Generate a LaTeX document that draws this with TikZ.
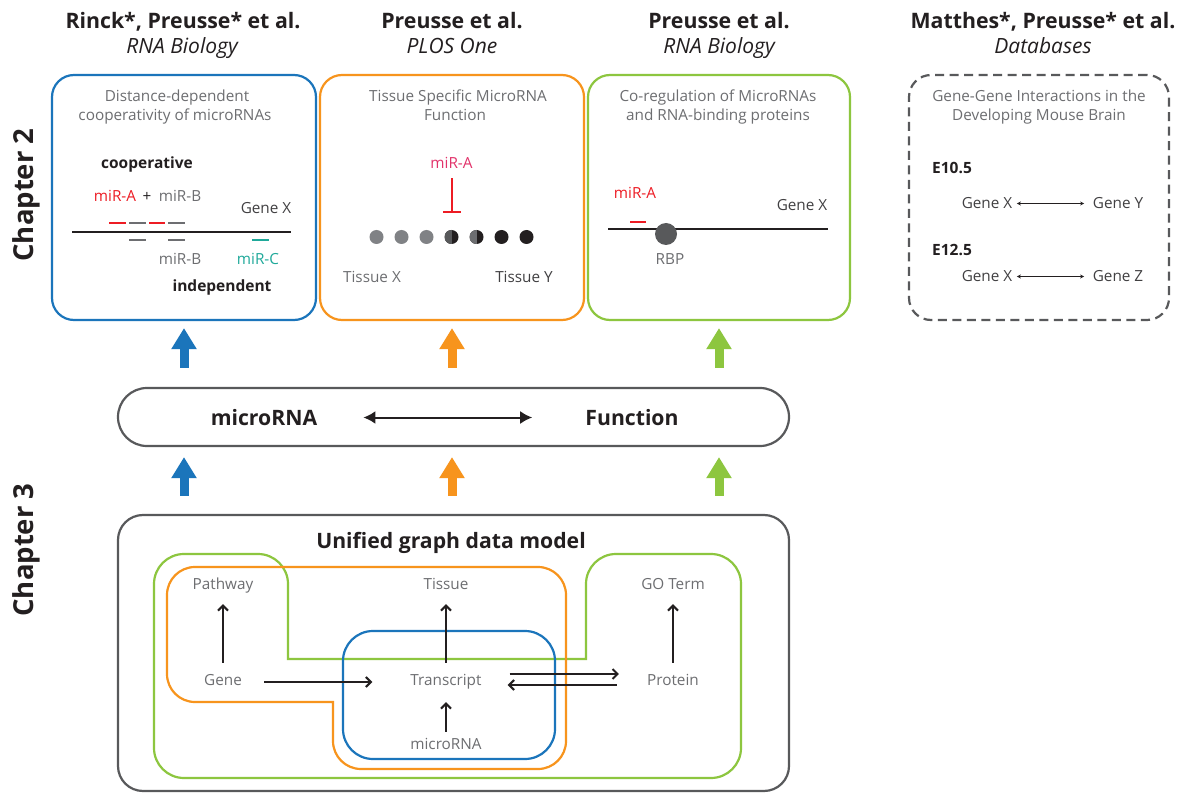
\documentclass[tikz,border=0pt]{standalone}
\usepackage{fontspec}
\setmainfont{Open Sans}
\usetikzlibrary{arrows.meta}

\definecolor{cblue}{HTML}{1B75BB}
\definecolor{corange}{HTML}{F7941D}
\definecolor{cgreen}{HTML}{8DC63F}
\definecolor{cframe}{HTML}{58595B}
\definecolor{cink}{HTML}{231F20}
\definecolor{cdark}{HTML}{414042}
\definecolor{cgray}{HTML}{6D6E71}
\definecolor{cmid}{HTML}{808285}
\definecolor{cred}{HTML}{ED1C24}
\definecolor{cpink}{HTML}{E2336B}
\definecolor{cteal}{HTML}{1FA99A}

\begin{document}
\begin{tikzpicture}[x=1pt,y=-1pt,
  lbl/.style={inner sep=0pt, anchor=base, text height=11pt, text depth=0pt,
    font=\fontsize{15.3}{18}\selectfont, text=cgray},
  lblb/.style={lbl, font=\bfseries\fontsize{15.5}{18}\selectfont, text=cink},
  author/.style={inner sep=0pt, anchor=base, font=\bfseries\fontsize{21.3}{25}\selectfont, text=cink},
  journal/.style={inner sep=0pt, anchor=base, font=\itshape\fontsize{21}{25}\selectfont, text=cink},
  card/.style={rectangle, rounded corners=22pt, minimum width=264pt,
    minimum height=245pt, line width=2.2pt, inner sep=0pt},
  shell/.style={rectangle, draw=cframe, line width=2.2pt, inner sep=0pt},
  big/.style={inner sep=0pt, anchor=base, font=\bfseries\fontsize{21.2}{25}\selectfont,
    text=cink, text height=15pt, text depth=0pt},
  chap/.style={inner sep=0pt, rotate=90, font=\bfseries\fontsize{27.5}{32}\selectfont, text=cink},
  fat/.style={line width=9pt, -{Triangle[length=21pt,width=24pt]}},
  arr/.style={line width=2pt, draw=cink, -{Straight Barb[length=5pt,width=10pt]}},
  seg/.style={line width=2pt},
  bead/.style={circle, minimum size=14pt, inner sep=0pt, fill=cmid},
  halfbead/.style={bead, fill=cink, path picture={\fill[#1]
    (path picture bounding box.north) rectangle (path picture bounding box.south west);}},
  pair/.style={line width=1pt, draw=cink,
    {Stealth[length=4pt,width=4pt]}-{Stealth[length=4pt,width=4pt]}},
]
\fill[white] (0,0) rectangle (1186,794);
\useasboundingbox (0,0) rectangle (1186,794);

% ---- publication headers
\node[author]  (h1) at (183,29) {Rinck*, Preusse* et al.};
\node[journal] (j1) at (182,54) {RNA Biology};
\node[author]  (h2) at (452,29) {Preusse et al.};
\node[journal] (j2) at (452,54) {PLOS One};
\node[author]  (h3) at (719,29) {Preusse et al.};
\node[journal] (j3) at (719,54) {RNA Biology};
\node[author]  (h4) at (1043,29) {Matthes*, Preusse* et al.};
\node[journal] (j4) at (1043,54) {Databases};

% ---- chapter labels
\node[chap] (c2) at (26,195) {Chapter 2};
\node[chap] (c3) at (26,550) {Chapter 3};

% ---- study cards
\node[card, draw=cblue]   (b1) at (184,197.5) {};
\node[card, draw=corange] (b2) at (452,197.5) {};
\node[card, draw=cgreen, minimum width=262pt] (b3) at (719,197.5) {};
\node[card, draw=cframe, dash pattern=on 9pt off 5.5pt, minimum width=260pt] (b4) at (1039,197.5) {};

\node[lbl] (t1a) at (177,102) {Distance-dependent};
\node[lbl] (t1b) at (175,121) {cooperativity of microRNAs};
\node[lbl] (t2a) at (458,102) {Tissue Specific MicroRNA};
\node[lbl] (t2b) at (455,121) {Function};
\node[lbl] (t3a) at (718,102) {Co-regulation of MicroRNAs};
\node[lbl] (t3b) at (718,121) {and RNA-binding proteins};
\node[lbl] (t4a) at (1039,102) {Gene-Gene Interactions in the};
\node[lbl] (t4b) at (1039,121) {Developing Mouse Brain};

% cooperative / independent binding
\node[lblb] (coop) at (147,169) {cooperative};
\node[lbl, text=cred] (ca) at (115,202) {miR-A};
\node[lbl, text=cink] (cplus) at (147,202) {+};
\node[lbl] (cb) at (180,202) {miR-B};
\node[lbl, text=cdark] (cgx) at (266,214) {Gene X};
\draw[seg, cink] (72,232) -- (291,232);
\draw[seg, cred]  (109,223) -- (126,223);
\draw[seg, cgray] (129,223) -- (146,223);
\draw[seg, cred]  (149,223) -- (165,223);
\draw[seg, cgray] (168,223) -- (185,223);
\draw[seg, cgray] (129,240) -- (146,240);
\draw[seg, cgray] (168,240) -- (185,240);
\draw[seg, cteal] (252,240) -- (269,240);
\node[lbl] (ib) at (180,265) {miR-B};
\node[lbl, text=cteal] (ic) at (258,265) {miR-C};
\node[lblb] (indep) at (222,292) {independent};

% tissue gradient
\node[lbl, text=cpink] (pa) at (451.5,169) {miR-A};
\node[bead] (d1) at (376.5,237) {};
\node[bead] (d2) at (401.5,237) {};
\node[bead] (d3) at (426.5,237) {};
\node[halfbead=cframe] (d4) at (451.5,237) {};
\node[halfbead=cgray]  (d5) at (476.5,237) {};
\node[bead, fill=cink] (d6) at (501.5,237) {};
\node[bead, fill=cink] (d7) at (526.5,237) {};
\draw[cred, line width=2pt, -{Bar[width=18pt]}, shorten <=9pt, shorten >=17pt] (pa.south) -- (d4.north);
\node[lbl] (tsx) at (372,283) {Tissue X};
\node[lbl, text=cdark] (tsy) at (524,283) {Tissue Y};

% microRNA and RNA-binding protein
\node[lbl, text=cred] (ga) at (635,199) {miR-A};
\draw[seg, cred] (630,222) -- (646,222);
\draw[seg, cink] (608,229) -- (828,229);
\node[bead, minimum size=22pt, fill=cframe] (rbp) at (666,234) {};
\node[lbl] (rbpl) at (670,265) {RBP};
\node[lbl, text=cdark] (ggx) at (802,211) {Gene X};

% developmental gene-gene interactions
\node[lblb, anchor=base west] (e1) at (932,174) {E10.5};
\node[lbl, text=cdark] (x1) at (987,209) {Gene X};
\node[lbl, text=cdark] (y1) at (1118,209) {Gene Y};
\draw[pair, shorten <=4.5pt, shorten >=8.5pt] (x1.east) -- (y1.west);
\node[lblb, anchor=base west] (e2) at (932,256) {E12.5};
\node[lbl, text=cdark] (x2) at (987,282) {Gene X};
\node[lbl, text=cdark] (z2) at (1118,282) {Gene Z};
\draw[pair, shorten <=4.5pt, shorten >=8.5pt] (x2.east) -- (z2.west);

% ---- microRNA <-> Function bar
\node[shell, rounded corners=29pt, minimum width=671pt, minimum height=58pt] (bar) at (453.5,417) {};
\node[big] (bm) at (264,425) {microRNA};
\node[big] (bf) at (632,425) {Function};
\draw[line width=2pt, cink, {Latex[length=12pt,width=13pt]}-{Latex[length=12pt,width=13pt]},
  shorten <=46pt, shorten >=53pt] (bm.east) -- (bf.west);

% ---- unified graph data model
\node[shell, rounded corners=25pt, minimum width=671pt, minimum height=276pt] (model) at (453.5,653) {};
\node[big] (mt) at (451,548) {Unified graph data model};

% ---- colored links between levels
\coordinate (u1) at (b1.south |- bar.north);
\coordinate (u2) at (b2.south |- bar.north);
\coordinate (u3) at (b3.south |- bar.north);
\coordinate (l1) at (b1.south |- model.north);
\coordinate (l2) at (b2.south |- model.north);
\coordinate (l3) at (b3.south |- model.north);
\coordinate (m1) at (b1.south |- bar.south);
\coordinate (m2) at (b2.south |- bar.south);
\coordinate (m3) at (b3.south |- bar.south);
\draw[fat, cblue]   ([yshift=19pt]u1) -- ([yshift=-7pt]b1.south);
\draw[fat, corange] ([yshift=19pt]u2) -- ([yshift=-7pt]b2.south);
\draw[fat, cgreen]  ([yshift=19pt]u3) -- ([yshift=-7pt]b3.south);
\draw[fat, cblue]   ([yshift=18pt]l1) -- ([yshift=-10pt]m1);
\draw[fat, corange] ([yshift=18pt]l2) -- ([yshift=-10pt]m2);
\draw[fat, cgreen]  ([yshift=18pt]l3) -- ([yshift=-10pt]m3);

% ---- data domains
\draw[cgreen, line width=2.2pt]
  (154,584) arc[start angle=180,end angle=270,radius=30] -- (258,554)
  arc[start angle=270,end angle=360,radius=30] -- (288,659) -- (586,659) -- (586,584)
  arc[start angle=180,end angle=270,radius=30] -- (711,554)
  arc[start angle=270,end angle=360,radius=30] -- (741,748)
  arc[start angle=0,end angle=90,radius=30] -- (184,778)
  arc[start angle=90,end angle=180,radius=30] -- cycle;
\draw[corange, line width=2.2pt]
  (167,595) arc[start angle=180,end angle=270,radius=28] -- (538,567)
  arc[start angle=270,end angle=360,radius=28] -- (566,741)
  arc[start angle=0,end angle=90,radius=28] -- (361,769)
  arc[start angle=90,end angle=180,radius=28] -- (333,702) -- (195,702)
  arc[start angle=90,end angle=180,radius=28] -- cycle;
\node[rectangle, draw=cblue, line width=2.2pt, rounded corners=30pt,
  minimum width=212pt, minimum height=128pt] (txr) at (449,695) {};

% ---- graph entities
\node[lbl] (pathway) at (223,589) {Pathway};
\node[lbl] (gene) at (223,685) {Gene};
\node[lbl] (tissue) at (446,589) {Tissue};
\node[lbl] (transcript) at (446,685) {Transcript};
\node[lbl] (mirna) at (446,749) {microRNA};
\node[lbl] (goterm) at (673,589) {GO Term};
\node[lbl] (protein) at (673,685) {Protein};

\draw[arr, shorten <=11pt, shorten >=15pt] (gene.north) -- (pathway.south);
\draw[arr, shorten <=11pt, shorten >=15pt] (transcript.north) -- (tissue.south);
\draw[arr, shorten <=11pt, shorten >=15pt] (protein.north) -- (goterm.south);
\draw[arr, shorten <=6pt, shorten >=17pt] (mirna.north) -- (transcript.south);
\draw[arr, shorten <=22pt, shorten >=38pt] ([yshift=-2.5pt]gene.east) -- ([yshift=-2.5pt]transcript.west);
\draw[arr, shorten <=28pt, shorten >=28pt] ([yshift=5.5pt]transcript.east) -- ([yshift=5.5pt]protein.west);
\draw[arr, shorten <=30pt, shorten >=26pt] ([yshift=-5.5pt]protein.west) -- ([yshift=-5.5pt]transcript.east);
\end{tikzpicture}
\end{document}
